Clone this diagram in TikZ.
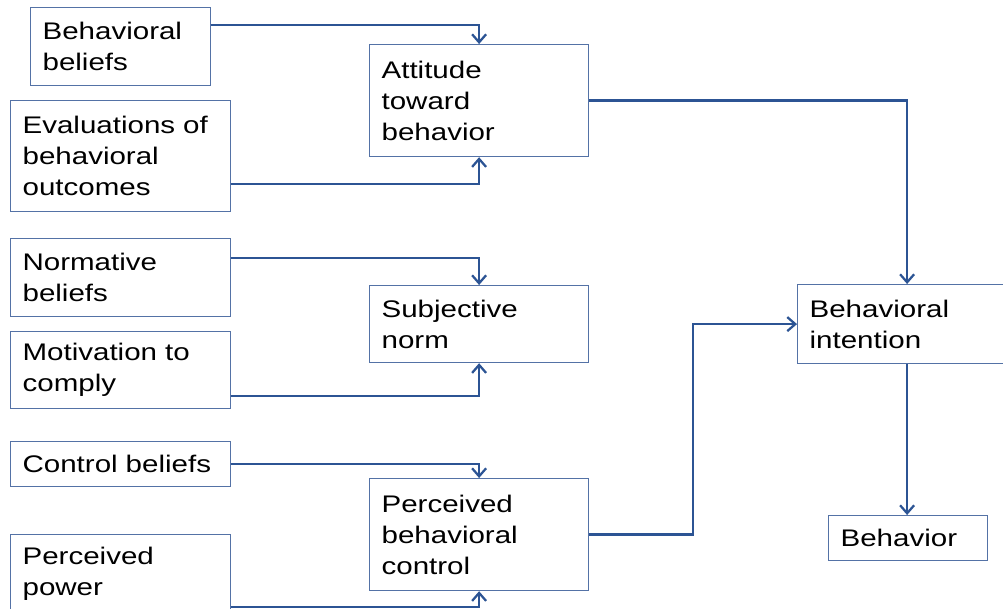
\documentclass[tikz,border=0pt]{standalone}
\usepackage{fontspec}
\setmainfont{Liberation Sans}[FakeStretch=1.23]
\usetikzlibrary{arrows.meta,calc}
\definecolor{linkblue}{RGB}{44,84,148}
\definecolor{boxblue}{RGB}{84,114,166}

\begin{document}
\begin{tikzpicture}[x=0.75pt,y=0.75pt,yscale=-1,xscale=1,
  box/.style={draw=boxblue, line width=0.9pt, anchor=north west, align=left,
    inner xsep=9pt, inner ysep=0pt, font=\fontsize{18}{23.25}\selectfont},
  link/.style={draw=linkblue, line width=1.9pt,
    -{Straight Barb[length=6pt,width=10.5pt,line width=1.7pt]}}]
\useasboundingbox (0,0) rectangle (1003,609);
                % beliefs on the left
                \node[box, text width=117pt, minimum height=58.5pt] (bb) at (30,7) {Behavioral\\beliefs};
                \node[box, text width=147pt, minimum height=83.25pt] (eval) at (10,100) {Evaluations of\\behavioral\\outcomes};
                \node[box, text width=147pt, minimum height=58.5pt] (nb) at (10,238) {Normative\\beliefs};
                \node[box, text width=147pt, minimum height=57.75pt] (mc) at (10,331) {Motivation to\\comply};
                \node[box, text width=147pt, minimum height=33.75pt] (cb) at (10,441) {Control beliefs};
                \node[box, text width=147pt, minimum height=58.5pt] (pp) at (10,534) {Perceived\\power};
                % middle column
                \node[box, text width=146.25pt, minimum height=84pt] (att) at (369,44) {Attitude\\toward\\behavior};
                \node[box, text width=146.25pt, minimum height=57.75pt] (sn) at (369,285) {Subjective\\norm};
                \node[box, text width=146.25pt, minimum height=84pt] (pbc) at (369,478) {Perceived\\behavioral\\control};
                % right column
                \node[box, text width=146.25pt, minimum height=59.25pt] (bi) at (797,284) {Behavioral\\intention};
                \node[box, text width=101.25pt, minimum height=33.75pt] (beh) at (828,515) {Behavior};
                % connectors
                \draw[link] ($(bb.north east)+(0,18)$) -| (att.north);
                \draw[link] ($(eval.south east)+(0,-28)$) -| (att.south);
                \draw[link] ($(nb.north east)+(0,20)$) -| (sn.north);
                \draw[link] ($(mc.south east)+(0,-13)$) -| (sn.south);
                \draw[link] (cb.east) -| (pbc.north);
                \draw[link] ($(pp.north east)+(0,73)$) -| (pbc.south);
                \draw[link] (att.east) -| (bi.north);
                \draw[link] (pbc.east) -| ($(pbc.east)!.5!(bi.west)$) |- (bi.west);
                \draw[link] (bi.south) -- (bi.south |- beh.north);
            \end{tikzpicture}
\end{document}
